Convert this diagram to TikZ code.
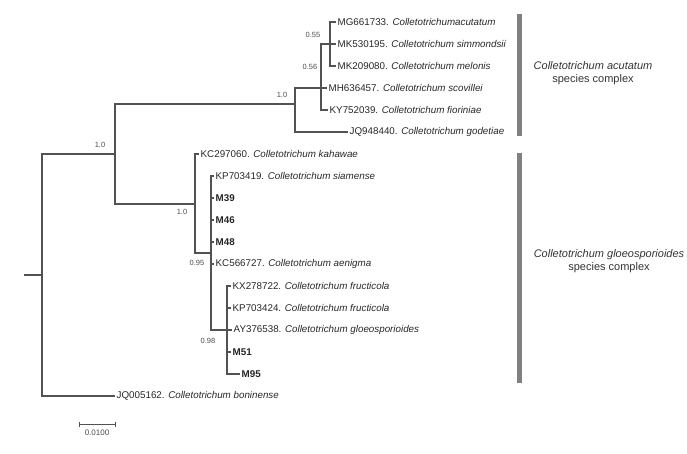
\documentclass[tikz,border=0pt]{standalone}
\usepackage{fontspec}
\setmainfont{Liberation Sans}
\begin{document}
\begin{tikzpicture}[x=1pt,y=-1pt,
  branch/.style={draw=black!68, line width=1.1pt},
  leaf/.style={anchor=west, inner sep=1.5pt, font=\fontsize{9.8}{11}\selectfont, text=black!85},
  strain/.style={leaf, font=\fontsize{9.8}{11}\selectfont\bfseries},
  boot/.style={inner sep=0pt, font=\fontsize{7.5}{9}\selectfont, text=black!70},
  cladebar/.style={draw=black!50, line width=5pt},
  cladelab/.style={align=center, inner sep=0pt, font=\fontsize{11}{13}\selectfont, text=black!80}]

\useasboundingbox (0,0) rectangle (687,453);

% internal nodes
\coordinate (stub) at (24,275);
\coordinate (root) at (42,275);
\coordinate (nab) at (115,154);
\coordinate (ntop) at (295,104);
\coordinate (n56) at (321,88);
\coordinate (n55) at (330,44);
\coordinate (nbot) at (195,204);
\coordinate (n95) at (211,253);
\coordinate (n98) at (227,330);

% acutatum leaves
\node[leaf] (mg) at (336,22) {MG661733. \textit{Colletotrichumacutatum}};
\node[leaf] (mk5) at (336,44) {MK530195. \textit{Colletotrichum simmondsii}};
\node[leaf] (mk2) at (336,66) {MK209080. \textit{Colletotrichum melonis}};
\node[leaf] (mh) at (327,88) {MH636457. \textit{Colletotrichum scovillei}};
\node[leaf] (ky) at (328,110) {KY752039. \textit{Colletotrichum fioriniae}};
\node[leaf] (jq9) at (348,132) {JQ948440. \textit{Colletotrichum godetiae}};

% gloeosporioides leaves
\node[leaf] (kc2) at (199,154) {KC297060. \textit{Colletotrichum kahawae}};
\node[leaf] (kp7) at (214,176) {KP703419. \textit{Colletotrichum siamense}};
\node[strain] (m39) at (214,198) {M39};
\node[strain] (m46) at (214,220) {M46};
\node[strain] (m48) at (214,242) {M48};
\node[leaf] (kc5) at (214,264) {KC566727. \textit{Colletotrichum aenigma}};
\node[leaf] (kx) at (231,286) {KX278722. \textit{Colletotrichum fructicola}};
\node[leaf] (kp4) at (231,308) {KP703424. \textit{Colletotrichum fructicola}};
\node[leaf] (ay) at (232,330) {AY376538. \textit{Colletotrichum gloeosporioides}};
\node[strain] (m51) at (231,352) {M51};
\node[strain] (m95) at (240,374) {M95};

% outgroup
\node[leaf] (jq5) at (115,396) {JQ005162. \textit{Colletotrichum boninense}};

% branches
\draw[branch] (stub) -- (root);
\draw[branch] (root) |- (nab);
\draw[branch] (root) |- (jq5.west);
\draw[branch] (nab) |- (ntop);
\draw[branch] (nab) |- (nbot);
\draw[branch] (ntop) |- (n56);
\draw[branch] (ntop) |- (jq9.west);
\draw[branch] (n56) |- (n55);
\draw[branch] (n56) |- (mh.west);
\draw[branch] (n56) |- (ky.west);
\draw[branch] (n55) |- (mg.west);
\draw[branch] (n55) -- (mk5.west);
\draw[branch] (n55) |- (mk2.west);
\draw[branch] (nbot) |- (kc2.west);
\draw[branch] (nbot) |- (n95);
\draw[branch] (n95) |- (kp7.west);
\draw[branch] (n95) |- (m39.west);
\draw[branch] (n95) |- (m46.west);
\draw[branch] (n95) |- (m48.west);
\draw[branch] (n95) |- (kc5.west);
\draw[branch] (n95) |- (n98);
\draw[branch] (n98) |- (kx.west);
\draw[branch] (n98) |- (kp4.west);
\draw[branch] (n98) -- (ay.west);
\draw[branch] (n98) |- (m51.west);
\draw[branch] (n98) |- (m95.west);

% support values
\node[boot] (b55) at (313,35) {0.55};
\node[boot] (b56) at (310,67) {0.56};
\node[boot] (btop) at (282,95) {1.0};
\node[boot] (bab) at (100,145) {1.0};
\node[boot] (bbot) at (182,212) {1.0};
\node[boot] (b95) at (197,263) {0.95};
\node[boot] (b98) at (208,341) {0.98};

% species complexes
\draw[cladebar] (519,14) -- (519,136);
\draw[cladebar] (519,153) -- (519,383);
\node[cladelab] (acu) at (593,73.5) {\textit{Colletotrichum acutatum}\\species complex};
\node[cladelab] (glo) at (609,261) {\textit{Colletotrichum gloeosporioides}\\species complex};

% scale bar
\coordinate (sa) at (79,424);
\coordinate (sb) at (115,424);
\draw[branch, line width=0.9pt] (sa) -- (sb);
\draw[branch, line width=0.9pt] (sa) +(0,-2.5) -- +(0,2.5);
\draw[branch, line width=0.9pt] (sb) +(0,-2.5) -- +(0,2.5);
\node[boot, font=\fontsize{8}{9}\selectfont] (scale) at (97,433) {0.0100};

\end{tikzpicture}
\end{document}
